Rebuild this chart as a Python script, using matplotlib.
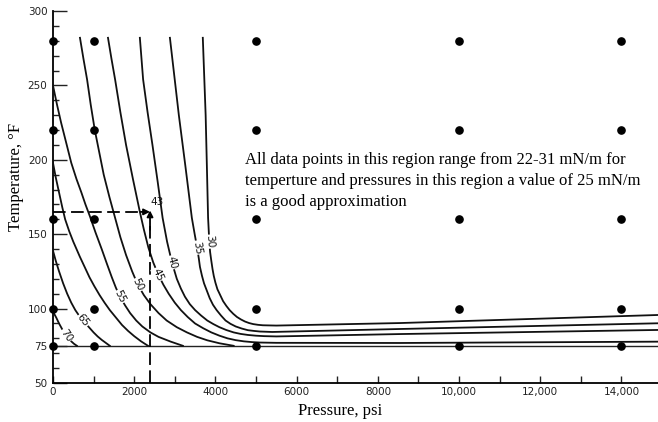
import numpy as np
import matplotlib
matplotlib.use("Agg")
import matplotlib.pyplot as plt

# isotension curves, (pressure psi, temperature F) for each tension value
curve_values = [70, 65, 60, 55, 50, 45, 40, 35, 30]
curve_points = {
    70: [(0, 98), (80, 94), (150, 90), (230, 86), (300, 83), (380, 80),
         (450, 78), (520, 76.3), (590, 75)],
    65: [(0, 139), (70, 132), (150, 125), (250, 117), (350, 110), (450, 104),
         (550, 99), (650, 95), (740, 92), (870, 88), (1000, 84), (1100, 81.3),
         (1200, 79), (1300, 77), (1400, 75)],
    60: [(0, 198), (70, 188), (150, 178), (230, 168), (300, 160), (400, 152),
         (500, 145), (580, 140), (660, 135), (780, 128), (900, 121), (1020, 115),
         (1150, 109), (1270, 104), (1400, 99), (1550, 94), (1700, 89),
         (1850, 85), (2000, 81.5), (2170, 78), (2340, 75)],
    55: [(0, 250), (100, 237), (200, 225), (330, 211), (450, 198), (580, 187),
         (700, 178), (800, 170), (910, 162), (1050, 151), (1200, 140), (1330, 130),
         (1450, 121), (1550, 114), (1650, 108), (1780, 102), (1900, 97),
         (2050, 92), (2200, 88), (2400, 84), (2600, 81), (2900, 77.8), (3200, 75)],
    50: [(665, 282), (750, 268), (840, 254), (930, 237), (1030, 220), (1140, 205),
         (1250, 190), (1390, 175), (1530, 161), (1660, 148), (1800, 136),
         (1950, 125), (2090, 116), (2240, 109), (2400, 103), (2600, 97),
         (2800, 92), (3050, 87.5), (3300, 84), (3550, 81), (3800, 78.7),
         (4100, 76.7), (4450, 75)],
    45: [(1355, 282), (1440, 268), (1530, 254), (1660, 232), (1800, 210),
         (1970, 187), (2140, 165), (2240, 153), (2350, 141), (2470, 131),
         (2590, 123), (2720, 116), (2850, 110), (3000, 104), (3150, 99),
         (3320, 94.3), (3500, 90), (3700, 86.8), (3900, 84), (4100, 81.8),
         (4300, 80), (4500, 78.8), (4700, 78), (4900, 77.5), (5100, 77.2),
         (5500, 77), (8550, 76.9), (15000, 77.8)],
    40: [(2140, 282), (2180, 268), (2220, 254), (2330, 232), (2450, 210),
         (2580, 185), (2700, 161), (2810, 145), (2930, 131), (3050, 120),
         (3150, 113.5), (3250, 108), (3370, 103), (3500, 99), (3650, 95.3),
         (3800, 92), (3950, 89.6), (4100, 87.5), (4270, 85.6), (4450, 84),
         (4620, 83), (4800, 82.3), (5000, 81.8), (5200, 81.5), (5500, 81.3),
         (8550, 82.9), (15000, 85.7)],
    35: [(2880, 282), (2990, 256), (3100, 230), (3260, 196), (3420, 161),
         (3490, 150), (3550, 141), (3590, 134), (3620, 128), (3670, 122),
         (3720, 117), (3790, 112), (3860, 107), (3940, 102.6), (4030, 99),
         (4140, 95.3), (4250, 92), (4370, 89.8), (4500, 88), (4650, 86.6),
         (4800, 85.5), (4950, 85), (5100, 84.6), (5400, 84.3), (8550, 86.3),
         (15000, 90.2)],
    30: [(3690, 282), (3725, 256), (3760, 230), (3790, 196), (3820, 161),
         (3835, 153), (3850, 145), (3870, 138), (3900, 132), (3930, 126.5),
         (3960, 122), (4000, 117.5), (4050, 113), (4120, 109), (4190, 105),
         (4270, 101.8), (4350, 99), (4440, 96.5), (4530, 94.4), (4630, 92.7),
         (4730, 91.3), (4830, 90.3), (4930, 89.6), (5050, 89.1), (5170, 88.8),
         (5500, 88.6), (8550, 90.3), (15000, 95.8)],
}
# where the tension value is written on each curve (60 has no label)
label_pos = {
    70: (330, 82), 65: (740, 92), 55: (1650, 108), 50: (2090, 116),
    45: (2590, 123), 40: (2930, 131), 35: (3550, 141), 30: (3850, 145),
}

# measured data points
dot_pressure = [0, 1000, 5000, 10000, 14000]
dot_temperature = [75, 100, 160, 220, 280]

# worked example: 2390 psi, 165 F -> 43 mN/m
ex_pressure = 2390
ex_temperature = 165
ex_value = 43

x_ticks = [0, 2000, 4000, 6000, 8000, 10000, 12000, 14000]
x_ticklabels = ["0", "2000", "4000", "6000", "8000", "10,000", "12,000", "14,000"]
y_ticks = [50, 75, 100, 150, 200, 250, 300]

note = ("All data points in this region range from 22-31 mN/m for\n"
        "temperture and pressures in this region a value of 25 mN/m\n"
        "is a good approximation")

fig = plt.figure(figsize=(6.58, 4.22), dpi=100)
ax = fig.add_axes([0.0805, 0.0924, 0.9195, 0.8815])
ax.set_xlim(0, 14900)
ax.set_ylim(50, 300)

ax.spines["top"].set_visible(False)
ax.spines["right"].set_visible(False)
ax.spines["left"].set_linewidth(1.3)
ax.spines["bottom"].set_linewidth(1.3)

ax.set_xticks(x_ticks)
ax.set_xticklabels(x_ticklabels)
ax.set_xticks(np.arange(0, 15000, 1000), minor=True)
ax.set_yticks(y_ticks)
ax.set_yticks(np.arange(50, 301, 10), minor=True)
ax.tick_params(axis="both", which="both", direction="in", colors="#222222",
               labelsize=7.5, width=1.0)
ax.tick_params(axis="y", which="major", length=10, pad=4)
ax.tick_params(axis="y", which="minor", length=4.5)
ax.tick_params(axis="x", which="both", length=5, pad=3)

# 75 F baseline
ax.axhline(75, color="#222222", lw=1.0, zorder=2)

for v in curve_values:
    pts = np.array(curve_points[v])
    ax.plot(pts[:, 0], pts[:, 1], color="#111111", lw=1.3, zorder=3,
            solid_joinstyle="round")

fig.canvas.draw()
for v, (lx, ly) in label_pos.items():
    pts = np.array(curve_points[v])
    disp = ax.transData.transform(pts)
    here = ax.transData.transform((lx, ly))
    i = np.argmin(np.hypot(*(disp - here).T))
    j0, j1 = max(i - 2, 0), min(i + 2, len(pts) - 1)
    dx, dy = disp[j1] - disp[j0]
    ang = np.degrees(np.arctan2(dy, dx))
    ax.text(lx, ly, str(v), rotation=ang, rotation_mode="anchor",
            ha="center", va="center", fontsize=7.5, color="#111111", zorder=5,
            bbox=dict(boxstyle="square,pad=0.05", fc="white", ec="none"))

px, py = np.meshgrid(dot_pressure, dot_temperature)
ax.plot(px.ravel(), py.ravel(), "o", color="black", ms=5.2, zorder=6,
        clip_on=False)

# dashed read-off lines with arrows
dash = dict(color="black", lw=1.3, linestyle=(0, (7, 3)))
ax.plot([0, ex_pressure - 170], [ex_temperature, ex_temperature], **dash, zorder=4)
ax.plot([ex_pressure, ex_pressure], [50, ex_temperature - 9], **dash, zorder=4)
ax.annotate("", xy=(ex_pressure, ex_temperature), xytext=(ex_pressure - 230, ex_temperature),
            arrowprops=dict(arrowstyle="-|>", color="black", lw=1.3,
                            mutation_scale=9, shrinkA=0, shrinkB=0), zorder=5)
ax.annotate("", xy=(ex_pressure, ex_temperature + 1), xytext=(ex_pressure, ex_temperature - 12),
            arrowprops=dict(arrowstyle="-|>", color="black", lw=1.3,
                            mutation_scale=9, shrinkA=0, shrinkB=0), zorder=5)
ax.text(ex_pressure + 10, ex_temperature + 3, str(ex_value), fontsize=7.5,
        ha="left", va="bottom", color="#111111")

fig.text(0.372, 0.64, note, fontsize=12, family="Liberation Serif",
         ha="left", va="top", linespacing=1.42)

fig.text(0.517, 0.027, "Pressure, psi", fontsize=12, family="Liberation Serif",
         ha="center", va="center")
fig.text(0.024, 0.58, "Temperature, \u00b0F", fontsize=12, family="Liberation Serif",
         ha="center", va="center", rotation=90)

fig.savefig("out.png", dpi=100)
